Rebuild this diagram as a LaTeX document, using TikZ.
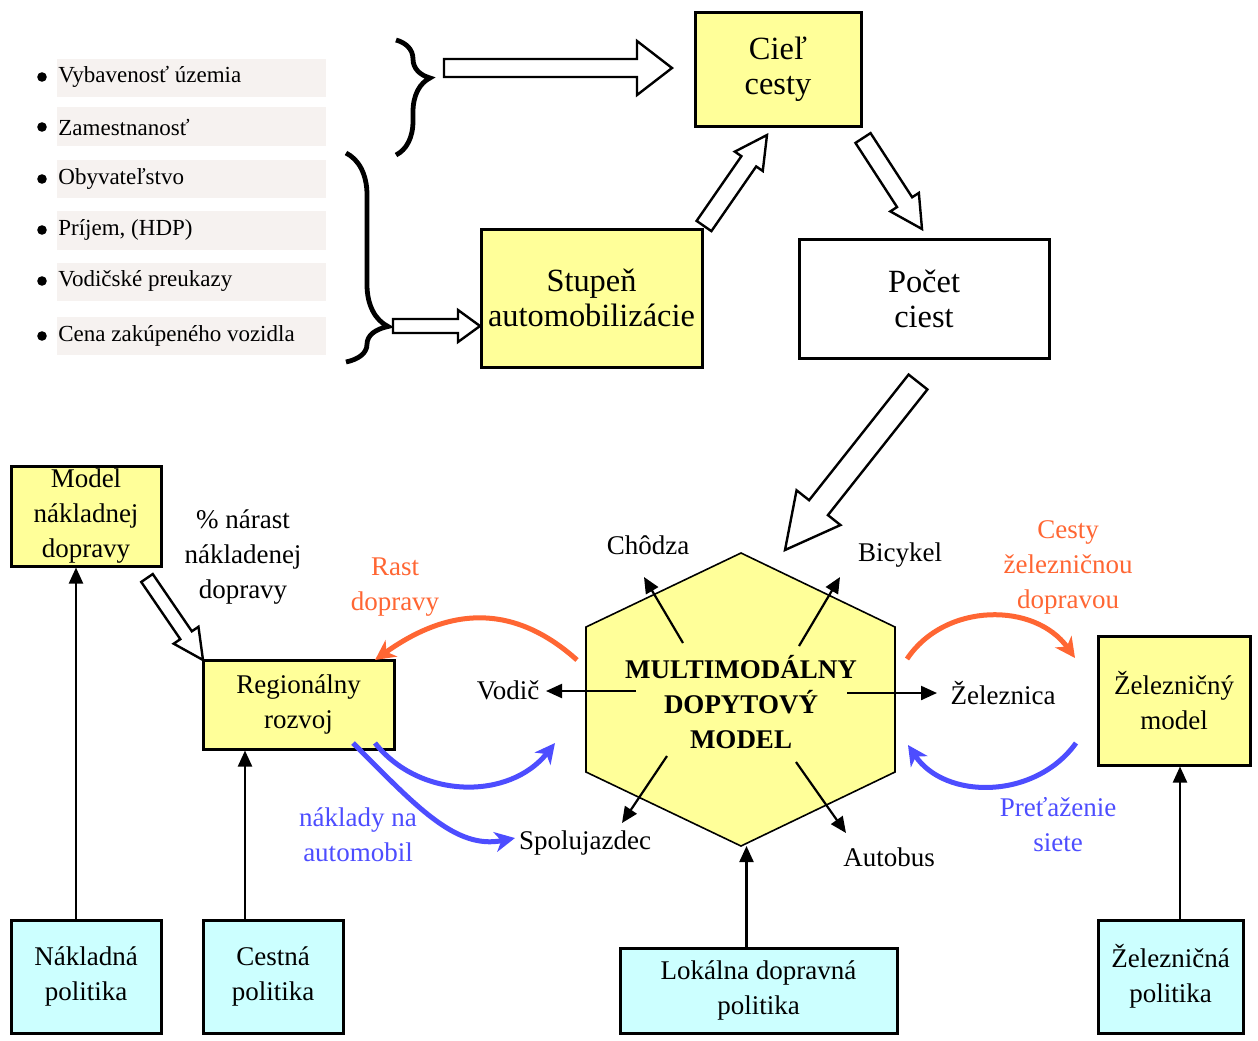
\documentclass[tikz,border=0pt]{standalone}
\usepackage{fontspec}
\setmainfont{Liberation Serif}
\usetikzlibrary{calc,arrows.meta,decorations.pathreplacing}

\definecolor{boxyellow}{HTML}{FFFF99}
\definecolor{boxcyan}{HTML}{CCFFFF}
\definecolor{flowor}{HTML}{FF6633}
\definecolor{flowbl}{HTML}{4D4DFF}
\definecolor{rowbg}{HTML}{F6F2F0}

% hollow block arrow: #1 tail, #2 tip, #3 half shaft width, #4 half head width, #5 head length
\newcommand{\blockarrow}[5]{%
  \path ($(#2)!#5!(#1)$) coordinate (ba-neck);
  \draw[hollow] ($(#1)!#3!90:(#2)$) -- ($(ba-neck)!#3!-90:(#1)$)
    -- ($(ba-neck)!#4!-90:(#1)$) -- (#2) -- ($(ba-neck)!#4!90:(#1)$)
    -- ($(ba-neck)!#3!90:(#1)$) -- ($(#1)!#3!-90:(#2)$) -- cycle;
}

\tikzset{
  lbl/.style={font=\fontsize{13.5}{17.5}\selectfont, align=center, inner sep=1pt},
  rowtxt/.style={font=\fontsize{11.5}{13}\selectfont, anchor=west, inner sep=0pt},
  ybox/.style={draw, line width=1.5pt, fill=boxyellow, align=center, inner sep=0pt},
  cbox/.style={draw, line width=1.5pt, fill=boxcyan, align=center, inner sep=0pt,
               font=\fontsize{13.5}{17.5}\selectfont},
  bigtxt/.style={font=\fontsize{16.2}{17.5}\selectfont},
  arr/.style={-{Triangle[length=8pt,width=7pt]}, line width=1.1pt},
  flow/.style={line width=2.5pt, -{Stealth[length=10pt,width=10pt,inset=3pt]}},
  hollow/.style={draw, line width=1.2pt, fill=white, line join=miter},
  brc/.style={decorate, line width=2.4pt},
}

\begin{document}
\begin{tikzpicture}[x=0.5pt,y=-0.5pt]
\useasboundingbox (0,0) rectangle (1258,1040);

% ---- list of input factors ----
\foreach \ya/\yb in {59/97,107/146,160/198,211/250,263/301,317/355}
  \fill[rowbg] (57,\ya) rectangle (326,\yb);
\foreach \yy in {77,127,179,230,281,336}
  \fill (42,\yy) circle (4.8);
\node[rowtxt] (r1) at (58,77)  {Vybavenosť územia};
\node[rowtxt] (r2) at (58,127) {Zamestnanosť};
\node[rowtxt] (r3) at (58,179) {Obyvateľstvo};
\node[rowtxt] (r4) at (58,230) {Príjem, (HDP)};
\node[rowtxt] (r5) at (58,281) {Vodičské preukazy};
\node[rowtxt] (r6) at (58,336) {Cena zakúpeného vozidla};

% ---- braces ----
\draw[brc, decoration={brace, amplitude=17pt, aspect=0.33}] (396,40) -- (396,155);
\draw[brc, decoration={brace, amplitude=21pt, aspect=0.83}] (346,153) -- (346,362);

% ---- upper boxes ----
\node[ybox, bigtxt, minimum width=83pt, minimum height=57pt] (ciel) at (778,69)
  {Cieľ\\cesty};
\node[ybox, bigtxt, minimum width=110.5pt, minimum height=69pt] (stup) at (591.5,298)
  {Stupeň\\automobilizácie};
\node[draw, line width=1.5pt, fill=white, align=center, inner sep=0pt, bigtxt,
      minimum width=125pt, minimum height=59.5pt] (pocet) at (924,298.5)
  {Počet\\ciest};

% ---- hollow arrows ----
\coordinate (a1t) at (444,68);  \coordinate (a1h) at (672,68);
\blockarrow{a1t}{a1h}{4.5pt}{13.5pt}{17.5pt}
\coordinate (a2t) at (393,326); \coordinate (a2h) at (480,326);
\blockarrow{a2t}{a2h}{3.5pt}{8pt}{11pt}
\coordinate (a3t) at (704,226); \coordinate (a3h) at (767,135);
\blockarrow{a3t}{a3h}{4.5pt}{8.5pt}{16pt}
\coordinate (a4t) at (863,138); \coordinate (a4h) at (922,229);
\blockarrow{a4t}{a4h}{4.5pt}{8.5pt}{16pt}
\coordinate (a5t) at (918,382); \coordinate (a5h) at (785,550);
\blockarrow{a5t}{a5h}{6pt}{14pt}{27pt}
\coordinate (a6t) at (147,578); \coordinate (a6h) at (203,660);
\blockarrow{a6t}{a6h}{3.5pt}{7.5pt}{15pt}

% ---- lower yellow boxes ----
\node[ybox, lbl, minimum width=75pt, minimum height=50pt] (model) at (86,516)
  {Model\\nákladnej\\dopravy};
\node[ybox, lbl, minimum width=95.5pt, minimum height=44.5pt] (reg) at (298.5,704.5)
  {Regionálny\\rozvoj};
\node[ybox, lbl, minimum width=76pt, minimum height=64.5pt] (zmod) at (1174,700.5)
  {Železničný\\model};

\node[lbl] (pct) at (243,557) {\% nárast\\nákladenej\\dopravy};

% ---- hexagon ----
\draw[fill=boxyellow, line width=0.8pt]
  (741,553) coordinate (ht) -- (895,627) -- (895,772) -- (741,846) coordinate (hb)
  -- (586,772) -- (586,627) -- cycle;
\node[lbl, font=\fontsize{13.5}{17.5}\selectfont\bfseries] (mdm) at (741,702)
  {MULTIMODÁLNY\\DOPYTOVÝ\\MODEL};

% ---- modes ----
\node[lbl] (chod) at (648,545) {Chôdza};
\node[lbl] (bicy) at (900,555) {Bicykel};
\node[lbl] (vodic) at (508,690) {Vodič};
\node[lbl] (zel) at (1003,693) {Železnica};
\node[lbl] (spol) at (585,843) {Spolujazdec};
\node[lbl] (auto) at (889,857) {Autobus};

\coordinate (m1) at (683,643); \coordinate (m1e) at (644,577);
\coordinate (m2) at (799,646); \coordinate (m2e) at (840,577);
\coordinate (m3) at (636,691); \coordinate (m3e) at (546,691);
\coordinate (m4) at (847,693); \coordinate (m4e) at (937,693);
\coordinate (m5) at (667,756); \coordinate (m5e) at (622,823);
\coordinate (m6) at (796,762); \coordinate (m6e) at (846,833);
\draw[arr] (m1) -- (m1e);
\draw[arr] (m2) -- (m2e);
\draw[arr] (m3) -- (m3e);
\draw[arr] (m4) -- (m4e);
\draw[arr] (m5) -- (m5e);
\draw[arr] (m6) -- (m6e);

% ---- feedback flows ----
\coordinate (o1s) at (577,660); \coordinate (o1e) at (375,660);
\draw[flow, flowor] (o1s) .. controls (510,600) and (445,610) .. (o1e);
\node[lbl, text=flowor, fill=white, inner sep=2pt] (rast) at (395,587) {Rast\\dopravy};

\coordinate (o2s) at (907,659); \coordinate (o2e) at (1075,658);
\draw[flow, flowor] (o2s) .. controls (945,602) and (1035,602) .. (o2e);
\node[lbl, text=flowor] (cesty) at (1068,567) {Cesty\\železničnou\\dopravou};

\coordinate (b1s) at (1076,743); \coordinate (b1e) at (908,745);
\draw[flow, flowbl] (b1s) .. controls (1035,800) and (945,800) .. (b1e);
\node[lbl, text=flowbl] (pret) at (1058,825) {Preťaženie\\siete};

\coordinate (b2s) at (375,743); \coordinate (b2e) at (555,743);
\draw[flow, flowbl] (b2s) .. controls (420,800) and (510,800) .. (b2e);
\coordinate (b3s) at (353,743); \coordinate (b3e) at (515,838);
\draw[flow, flowbl] (b3s) .. controls (415,805) and (455,850) .. (b3e);
\node[lbl, text=flowbl] (nakl) at (358,835) {náklady na\\automobil};

% ---- policy boxes ----
\node[cbox, minimum width=75pt, minimum height=56.5pt] (npol) at (86,976.5)
  {Nákladná\\politika};
\node[cbox, minimum width=70pt, minimum height=56.5pt] (cpol) at (273,976.5)
  {Cestná\\politika};
\node[cbox, minimum width=138.5pt, minimum height=42.5pt] (lpol) at (758.5,990.5)
  {Lokálna dopravná\\politika};
\node[cbox, minimum width=72.5pt, minimum height=56.5pt] (zpol) at (1170.5,976.5)
  {Železničná\\politika};

\draw[arr] ([xshift=-5pt]npol.north) -- ([xshift=-5pt]npol.north |- model.south);
\draw[arr] ([xshift=-14pt]cpol.north) -- ([xshift=-14pt]cpol.north |- reg.south);
\draw[arr] ([xshift=-6pt]lpol.north) -- ([xshift=-6pt]lpol.north |- hb);
\draw[arr] ([xshift=4.75pt]zpol.north) -- ([xshift=4.75pt]zpol.north |- zmod.south);

\end{tikzpicture}
\end{document}
